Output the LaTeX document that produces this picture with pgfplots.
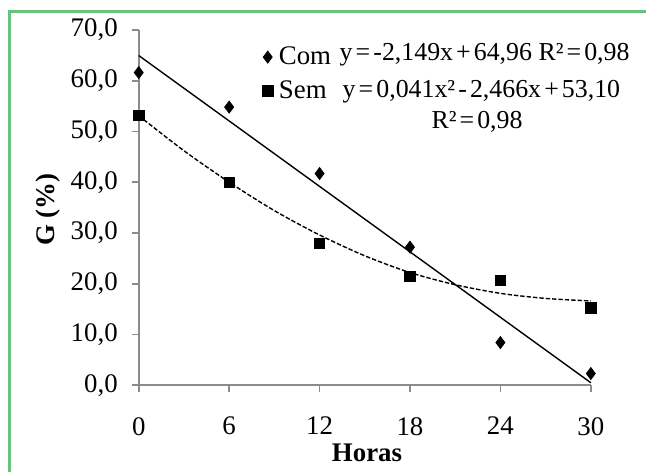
\documentclass[border=0pt]{standalone}
\usepackage{fontspec}
\setmainfont{Liberation Serif}
\usepackage{pgfplots}
\pgfplotsset{compat=1.18}
\definecolor{framegreen}{RGB}{100,196,122}
\definecolor{axgray}{RGB}{140,140,140}
\newcommand{\fs}{\fontsize{13.5}{15}\selectfont}
\newcommand{\sk}{\kern0.12em}

\begin{document}
\begin{tikzpicture}[x=0.5bp, y=0.5bp]
% page = 647 x 473 px, 1 px = 0.5 bp, origin bottom left
\path (0,0) rectangle (647,473);
\draw[framegreen, line width=1.3bp] (9.5,0) -- (9.5,461.5) -- (647,461.5);

\begin{axis}[
  at={(69.5bp,43.5bp)}, anchor=origin,
  scale only axis, width=226.5bp, height=178bp,
  xmin=0, xmax=30, ymin=0, ymax=70,
  xtick={0,6,12,18,24,30}, ytick={0,10,...,70},
  axis lines=left,
  axis line style={draw=axgray, line width=0.9bp, -},
  tick style={draw=axgray, line width=0.9bp},
  tick align=outside, major tick length=3.5bp,
  yticklabel style={/pgf/number format/fixed, /pgf/number format/fixed zerofill,
    /pgf/number format/precision=1, /pgf/number format/use comma, xshift=-3.5bp},
  /pgf/number format/assume math mode=true,
  ticklabel style={font=\fs},
  xticklabel style={yshift=-9bp},
  xlabel={\textbf{Horas}}, ylabel={\textbf{G (\%)}},
  label style={font=\fs},
  xlabel style={at={(axis description cs:0.505,-0.19)}, anchor=center},
  ylabel style={at={(axis description cs:-0.201,0.494)}, anchor=center, rotate=0},
  legend style={draw=none, fill=none, at={(axis description cs:0.273,0.965)}, anchor=north west,
    font=\fs, row sep=2.6bp, inner sep=0pt,
    nodes={inner xsep=3bp}},
  legend cell align=left,
  clip=false,
]
% Com: observed
\addplot[only marks, mark=diamond*, mark size=3bp, black] coordinates {
  (0,61.6) (6,54.8) (12,41.7) (18,27.2) (24,8.4) (30,2.3)};
\addlegendentry{Com}
% Sem: observed
\addplot[only marks, mark=square*, mark size=2.6bp, black] coordinates {
  (0,53.1) (6,39.9) (12,28.0) (18,21.4) (24,20.7) (30,15.2)};
\addlegendentry{Sem}
% trend lines
\addplot[forget plot, black, line width=0.7bp] coordinates {(0,64.96) (30,0.49)};
\addplot[forget plot, black, line width=0.7bp, dash pattern=on 2.2bp off 1bp, smooth] coordinates {
  (0,53.1) (3,46.2) (6,40.0) (9,34.4) (12,29.6) (15,25.5) (18,22.2)
  (21,19.8) (24,18.1) (27,17.1) (30,16.6)};
\end{axis}

\begin{scope}[font=\fontsize{13}{15}\selectfont]
\node[anchor=west, inner sep=0pt] at (340,418) {y\sk=\sk-2,149x\sk+\sk64,96 R²\sk=\sk0,98};
\node[anchor=west, inner sep=0pt] at (343,381) {y\sk=\sk0,041x²\sk-\sk2,466x\sk+\sk53,10};
\node[anchor=center, inner sep=0pt] at (478,351) {R²\sk=\sk0,98};
\end{scope}
\end{tikzpicture}
\end{document}
